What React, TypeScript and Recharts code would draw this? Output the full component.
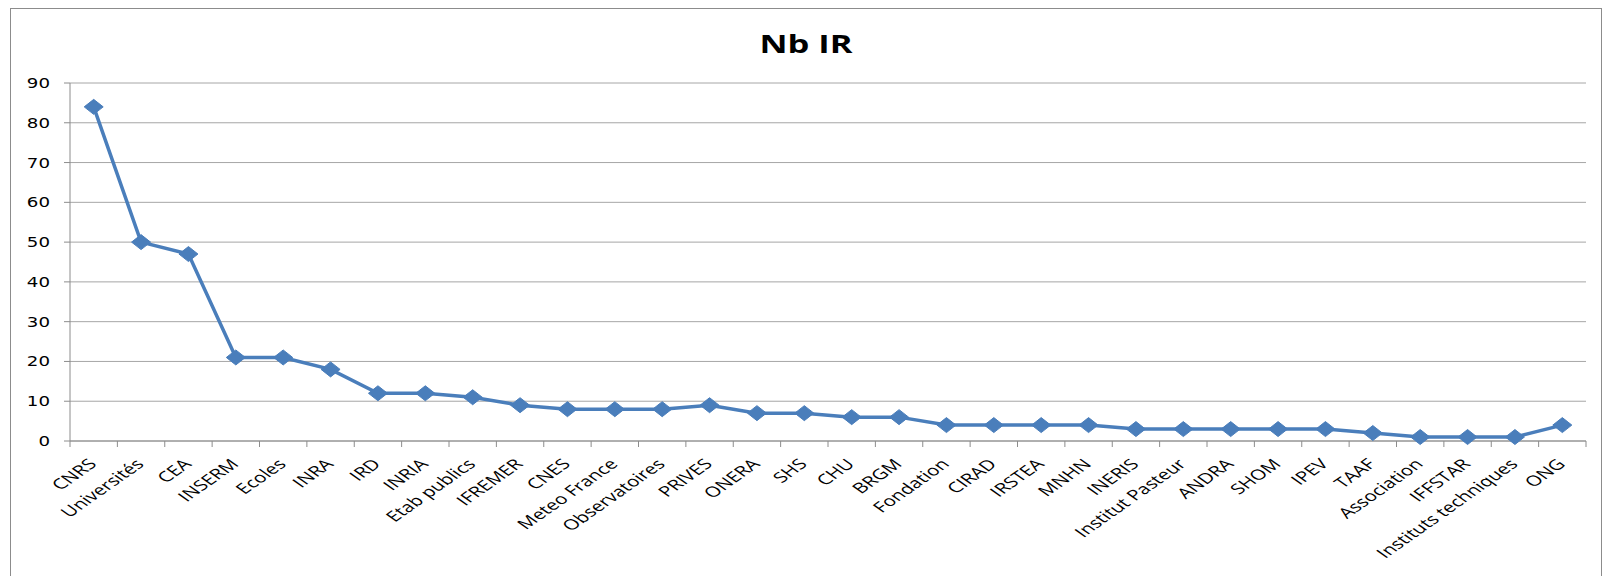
import React from "react";
import { LineChart, Line, XAxis, YAxis, CartesianGrid } from "recharts";

const categories = [
  "CNRS", "Universités", "CEA", "INSERM", "Ecoles", "INRA", "IRD", "INRIA",
  "Etab publics", "IFREMER", "CNES", "Meteo France", "Observatoires", "PRIVES",
  "ONERA", "SHS", "CHU", "BRGM", "Fondation", "CIRAD", "IRSTEA", "MNHN",
  "INERIS", "Institut Pasteur", "ANDRA", "SHOM", "IPEV", "TAAF", "Association",
  "IFFSTAR", "Instituts techniques", "ONG",
];
const nbIR = [
  84, 50, 47, 21, 21, 18, 12, 12, 11, 9, 8, 8, 8, 9, 7, 7, 6, 6, 4, 4, 4, 4,
  3, 3, 3, 3, 3, 2, 1, 1, 1, 4,
];
const yTicks = [0, 10, 20, 30, 40, 50, 60, 70, 80, 90];
const title = "Nb IR";

const data = categories.map((c, i) => ({ name: c, value: nbIR[i] }));

const W = 1612;
const H = 576;
const LEFT = 70;
const RIGHT = 26;
const STEP = (W - LEFT - RIGHT) / categories.length;
const STRETCH = 1.42;

const XTick = (props: any) => {
  const { x, y, payload, index } = props;
  const half = STEP / 2;
  const isLast = index === categories.length - 1;
  return (
    <g>
      <line x1={x - half} y1={y - 8} x2={x - half} y2={y - 2} stroke="#8c8c8c" strokeWidth={1} />
      {isLast && (
        <line x1={x + half} y1={y - 8} x2={x + half} y2={y - 2} stroke="#8c8c8c" strokeWidth={1} />
      )}
      <g transform={`translate(${x + 4}, ${y + 16}) scale(${STRETCH}, 1) rotate(-45)`}>
        <text
          x={0}
          y={0}
          textAnchor="end"
          fontFamily="'Open Sans', sans-serif"
          fontSize={14.5}
          fill="#000"
        >
          {payload.value}
        </text>
      </g>
    </g>
  );
};

const YTick = (props: any) => {
  const { x, y, payload } = props;
  return (
    <g transform={`translate(${x}, ${y}) scale(1.3, 1)`}>
      <text
        x={0}
        y={0}
        dy="0.36em"
        textAnchor="end"
        fontFamily="'DejaVu Sans', sans-serif"
        fontSize={14}
        fill="#000"
      >
        {payload.value}
      </text>
    </g>
  );
};

const Diamond = (props: any) => {
  const { cx, cy } = props;
  if (cx == null || cy == null) return null;
  const rx = 9.5;
  const ry = 7.5;
  return (
    <path
      d={`M${cx},${cy - ry}L${cx + rx},${cy}L${cx},${cy + ry}L${cx - rx},${cy}Z`}
      fill="#4a7ebb"
      stroke="#4a7ebb"
    />
  );
};

export default function App() {
  return (
    <div
      style={{
        position: "absolute",
        left: 0,
        top: 0,
        width: W,
        height: H,
        background: "#fff",
        overflow: "hidden",
      }}
    >
      <div
        style={{
          position: "absolute",
          left: 10,
          top: 8,
          width: 1592,
          height: 600,
          border: "1.5px solid #8c8c8c",
          boxSizing: "border-box",
        }}
      />
      <div
        style={{
          position: "absolute",
          left: 10,
          width: 1592,
          top: 26,
          textAlign: "center",
          fontFamily: "'Open Sans', sans-serif",
          fontWeight: 700,
          fontSize: 25,
          lineHeight: "34px",
          color: "#000",
          transform: "scaleX(1.38)",
        }}
      >
        {title}
      </div>
      <div style={{ position: "absolute", left: 0, top: 0 }}>
        <LineChart
          width={W}
          height={H}
          data={data}
          margin={{ top: 83, right: RIGHT, bottom: 15, left: 0 }}
        >
          <CartesianGrid vertical={false} stroke="#a6a6a6" strokeWidth={1} />
          <XAxis
            dataKey="name"
            interval={0}
            height={120}
            padding={{ left: STEP / 2, right: STEP / 2 }}
            axisLine={{ stroke: "#8c8c8c" }}
            tickLine={false}
            tick={<XTick />}
          />
          <YAxis
            domain={[0, 90]}
            ticks={yTicks}
            width={70}
            axisLine={{ stroke: "#8c8c8c" }}
            tickLine={{ stroke: "#8c8c8c" }}
            tickSize={6}
            tickMargin={14}
            tick={<YTick />}
          />
          <Line
            type="linear"
            dataKey="value"
            stroke="#4a7ebb"
            strokeWidth={3.5}
            dot={<Diamond />}
            activeDot={false}
            isAnimationActive={false}
          />
        </LineChart>
      </div>
    </div>
  );
}
